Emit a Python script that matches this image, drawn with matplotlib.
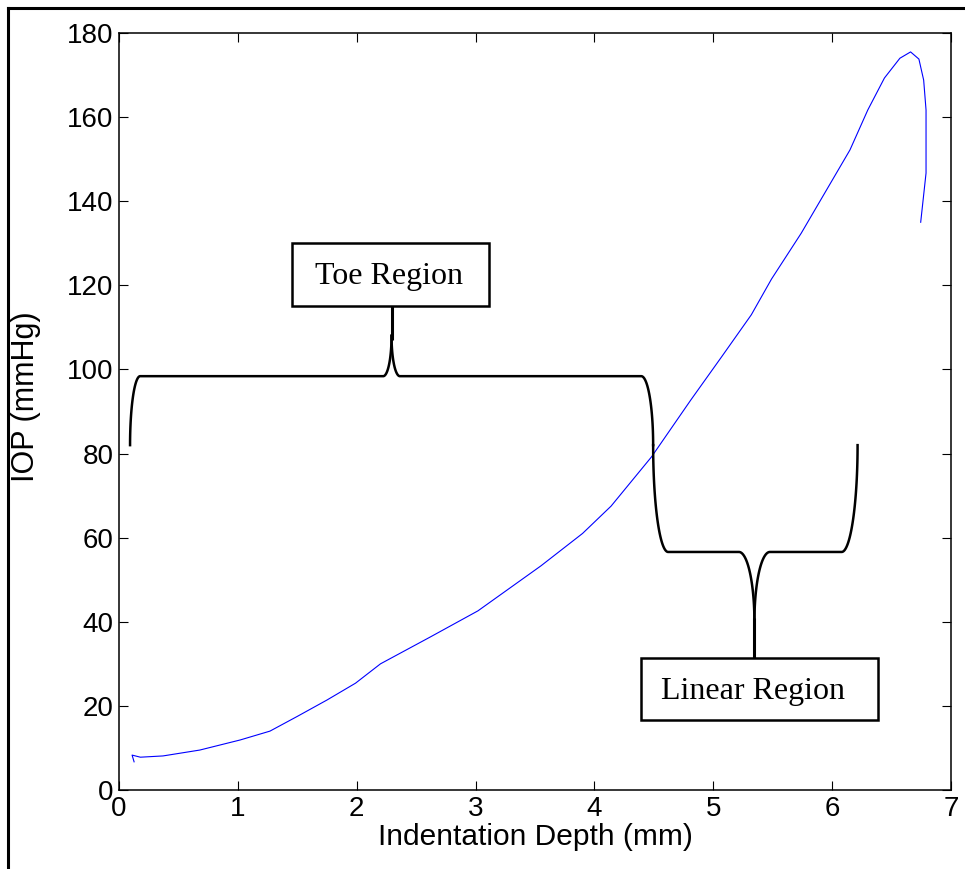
import numpy as np
import matplotlib
matplotlib.use('Agg')
import matplotlib.pyplot as plt
from matplotlib.lines import Line2D
from matplotlib.patches import Rectangle

# indentation curve
depth = [0.127, 0.11, 0.18, 0.37, 0.68, 1.02, 1.27, 1.5, 1.75, 1.99, 2.2,
         2.62, 3.02, 3.55, 3.9, 4.14, 4.48, 4.81, 5.07, 5.32, 5.49, 5.74,
         6.15, 6.3, 6.44, 6.57, 6.66, 6.73, 6.77, 6.79, 6.79, 6.745]
iop = [6.7, 8.3, 7.8, 8.1, 9.5, 11.9, 14.0, 17.5, 21.4, 25.4, 30.0,
       36.4, 42.6, 53.3, 61.0, 67.5, 79.2, 92.7, 103.0, 113.0, 121.5, 132.4,
       152.2, 161.7, 169.3, 174.0, 175.5, 173.8, 168.8, 161.7, 146.7, 135.0]

x_ticks = [0, 1, 2, 3, 4, 5, 6, 7]
y_ticks = [0, 20, 40, 60, 80, 100, 120, 140, 160, 180]

plt.rcParams['font.family'] = ['Liberation Sans', 'DejaVu Sans']


def quarter(xc, yc, rx, ry, t0, t1, n=40):
    t = np.linspace(t0, t1, n)
    return xc + rx * np.cos(t), yc + ry * np.sin(t)


def brace(ax, xl, xr, xm, y_end, y_lev, y_curl, y_stem, dl, dr, dm):
    # sign > 0: brace opens downward (tip up)
    s = np.sign(y_lev - y_end)
    h = abs(y_lev - y_end)
    hc = abs(y_curl - y_lev)
    # left end up to the middle
    ex, ey = quarter(xl + dl, y_end, dl, s * h, np.pi, np.pi / 2)
    cx, cy = quarter(xm - dm, y_curl, dm, s * hc, 1.5 * np.pi, 2 * np.pi)
    ax.plot(np.r_[ex, cx], np.r_[ey, cy], color='black', lw=1.8)
    # middle out to the right end
    cx, cy = quarter(xm + dm, y_curl, dm, s * hc, np.pi, 1.5 * np.pi)
    ex, ey = quarter(xr - dr, y_end, dr, s * h, np.pi / 2, 0)
    ax.plot(np.r_[cx, ex], np.r_[cy, ey], color='black', lw=1.8)
    # stem to the label box
    ax.plot([xm, xm], [y_curl - s * 1.0, y_stem], color='black', lw=2.2,
            solid_capstyle='butt')


fig = plt.figure(figsize=(9.65, 8.69), dpi=100)
ax = fig.add_axes([119 / 965, 79 / 869, 832 / 965, 757 / 869])

ax.plot(depth, iop, color='#0000ff', lw=0.8)

brace(ax, 0.093, 4.494, 2.293, 82, 98.4, 108, 115.1, 0.085, 0.1, 0.07)
brace(ax, 4.494, 6.214, 5.346, 82, 56.6, 40, 31.4, 0.126, 0.134, 0.13)

ax.add_patch(Rectangle((1.459, 115.1), 1.652, 14.95, fill=False,
                       ec='black', lw=1.8, zorder=3))
ax.add_patch(Rectangle((4.39, 16.6), 1.993, 14.8, fill=False,
                       ec='black', lw=1.8, zorder=3))
ax.text(2.27, 120.3, 'Toe Region', family=['Liberation Serif'],
        fontsize=23, ha='center', va='baseline')
ax.text(5.338, 21.6, 'Linear Region', family=['Liberation Serif'],
        fontsize=23, ha='center', va='baseline')

ax.set_xlim(0, 7)
ax.set_ylim(0, 180)
ax.set_xticks(x_ticks)
ax.set_yticks(y_ticks)
ax.tick_params(direction='in', length=6.5, width=0.8, labelsize=20,
               top=True, right=True, pad=4)
for sp in ax.spines.values():
    sp.set_linewidth(1.1)
ax.set_xlabel('Indentation Depth (mm)', fontsize=21.5, labelpad=1)
ax.set_ylabel('IOP (mmHg)', fontsize=22)
ax.yaxis.set_label_coords(-0.094, 0.52)

# outer frame
fig.add_artist(Line2D([8 / 965, 8 / 965], [0, 1 - 8 / 869],
                      transform=fig.transFigure, color='black', lw=2.2))
fig.add_artist(Line2D([8 / 965, 1], [1 - 8 / 869, 1 - 8 / 869],
                      transform=fig.transFigure, color='black', lw=2.2))

fig.savefig('out.png', dpi=100)
